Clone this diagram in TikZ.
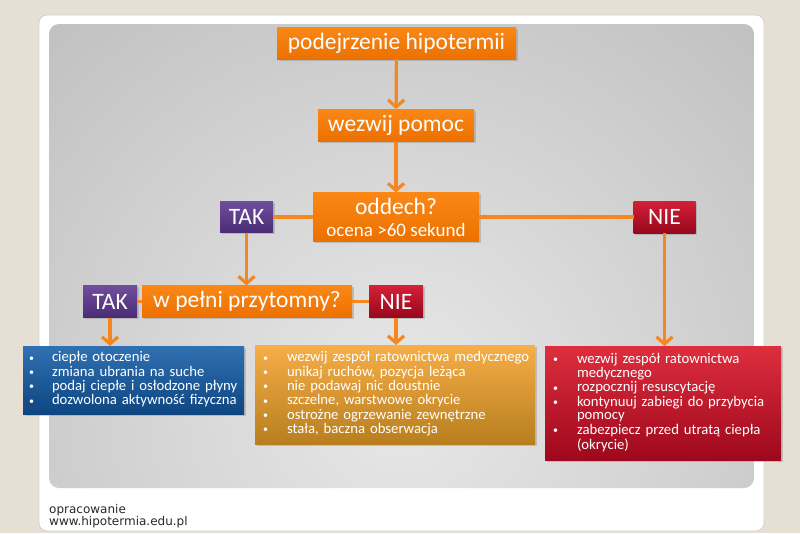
\documentclass[tikz,border=0pt]{standalone}
\usepackage{fontspec}
\setmainfont{Carlito}
\newfontfamily\stopka{DejaVu Sans}
\usetikzlibrary{arrows.meta,shadows}

\definecolor{tlo}{RGB}{230,224,212}
\definecolor{panelJasny}{RGB}{232,232,232}
\definecolor{panelCiemny}{RGB}{148,148,148}
\definecolor{pomGora}{RGB}{250,136,22}
\definecolor{pomDol}{RGB}{236,112,0}
\definecolor{linia}{RGB}{246,134,30}
\definecolor{fioGora}{RGB}{112,78,158}
\definecolor{fioDol}{RGB}{74,44,116}
\definecolor{czerGora}{RGB}{212,32,56}
\definecolor{czerDol}{RGB}{150,8,28}
\definecolor{niebGora}{RGB}{48,112,178}
\definecolor{niebDol}{RGB}{14,70,128}
\definecolor{zlotGora}{RGB}{246,174,72}
\definecolor{zlotDol}{RGB}{184,126,30}
\definecolor{rozGora}{RGB}{222,46,62}
\definecolor{rozDol}{RGB}{158,8,28}
\definecolor{stopkaTxt}{RGB}{40,40,40}

\newcommand{\kropka}{\raisebox{0.6pt}{\fontsize{10}{10}\selectfont\textbullet}}

\begin{document}
\begin{tikzpicture}[x=1pt,y=-1pt,
    blok/.style={top color=pomGora,bottom color=pomDol,text=white,
      font=\fontsize{23.5}{25}\selectfont,inner sep=0pt,outer sep=0pt,
      drop shadow={shadow xshift=1.5pt,shadow yshift=-1.5pt,opacity=0.35}},
    tak/.style={blok,top color=fioGora,bottom color=fioDol},
    nie/.style={blok,top color=czerGora,bottom color=czerDol},
    lista/.style={anchor=north west,text=white,outer sep=0pt,
      font=\fontsize{14.7}{13.8}\selectfont,
      drop shadow={shadow xshift=1.5pt,shadow yshift=-1.5pt,opacity=0.35}},
    linka/.style={draw=linia,line width=3.2pt},
    strzalka/.style={linka,-{Straight Barb[length=7pt,width=16pt]}}]
  \useasboundingbox (0,0) rectangle (800,533);
  \fill[tlo] (0,0) rectangle (800,533);
  \filldraw[fill=white,draw=black!18,line width=0.8pt,rounded corners=8pt]
    (39,15) rectangle (764,531);
  \begin{scope}
    \clip[rounded corners=10pt] (49,24) rectangle (754,488);
    \shade[inner color=panelJasny,outer color=panelCiemny] (400,400) circle (1100pt);
  \end{scope}

  % pytania
  \node[blok,minimum width=239pt,minimum height=32pt] (podejrzenie) at (396.5,43) {podejrzenie hipotermii};
  \node[blok,minimum width=156pt,minimum height=32pt] (pomoc) at (396,125) {wezwij pomoc};
  \node[blok,minimum width=166pt,minimum height=49pt,align=center] (oddech) at (396,217)
    {oddech?\\[-3pt]{\fontsize{19}{19}\selectfont ocena >60 sekund}};
  \node[tak,minimum width=53pt,minimum height=31pt] (tak1) at (246.5,217) {TAK};
  \node[nie,minimum width=62pt,minimum height=32pt] (nie1) at (664.5,217) {NIE};
  \node[blok,minimum width=210pt,minimum height=32pt] (przytomny) at (247,301.5) {w pełni przytomny?};
  \node[tak,minimum width=54pt,minimum height=32pt] (tak2) at (110,301.5) {TAK};
  \node[nie,minimum width=54pt,minimum height=32pt] (nie2) at (396,301.5) {NIE};

  % zalecenia
  \node[lista,top color=niebGora,bottom color=niebDol,inner xsep=6pt,inner ysep=5.5pt,text width=209pt]
    (cieplo) at (23,346) {\begin{tabular}{@{}p{23pt}@{}l@{}}
      \kropka & ciepłe otoczenie\\
      \kropka & zmiana ubrania na suche\\
      \kropka & podaj ciepłe i osłodzone płyny\\
      \kropka & dozwolona aktywność fizyczna
    \end{tabular}};
  \node[lista,top color=zlotGora,bottom color=zlotDol,inner xsep=8pt,inner ysep=6.5pt,text width=264pt]
    (ostroznie) at (255,345) {\begin{tabular}{@{}p{24pt}@{}l@{}}
      \kropka & wezwij zespół ratownictwa medycznego\\
      \kropka & unikaj ruchów, pozycja leżąca\\
      \kropka & nie podawaj nic doustnie\\
      \kropka & szczelne, warstwowe okrycie\\
      \kropka & ostrożne ogrzewanie zewnętrzne\\
      \kropka & stała, baczna obserwacja
    \end{tabular}};
  \node[lista,top color=rozGora,bottom color=rozDol,inner xsep=8pt,inner ysep=7pt,text width=220pt]
    (ratunek) at (545,346) {\begin{tabular}{@{}p{24pt}@{}l@{}}
      \kropka & wezwij zespół ratownictwa\\
              & medycznego\\
      \kropka & rozpocznij resuscytację\\
      \kropka & kontynuuj zabiegi do przybycia\\
              & pomocy\\
      \kropka & zabezpiecz przed utratą ciepła\\
              & (okrycie)
    \end{tabular}};

  % polaczenia
  \draw[strzalka] (podejrzenie) -- (pomoc);
  \draw[strzalka] (pomoc) -- (oddech);
  \draw[linka] (oddech.west) -- (tak1.east);
  \draw[linka] (oddech.east) -- (nie1.west);
  \draw[strzalka] (tak1.south) -- (tak1.south |- przytomny.north);
  \draw[strzalka] (nie1.south) -- (nie1.south |- ratunek.north);
  \draw[linka] (przytomny.west) -- (tak2.east);
  \draw[linka] (przytomny.east) -- (nie2.west);
  \draw[strzalka] (tak2.south) -- (tak2.south |- cieplo.north);
  \draw[strzalka] (nie2.south) -- (nie2.south |- ostroznie.north);

  \node[anchor=base west,inner sep=0pt,text=stopkaTxt,font=\stopka\fontsize{12}{12}\selectfont]
    (opracowanie) at (49,513) {opracowanie};
  \node[anchor=base west,inner sep=0pt,text=stopkaTxt,font=\stopka\fontsize{12}{12}\selectfont]
    (strona) at (49,525) {www.hipotermia.edu.pl};
\end{tikzpicture}
\end{document}
